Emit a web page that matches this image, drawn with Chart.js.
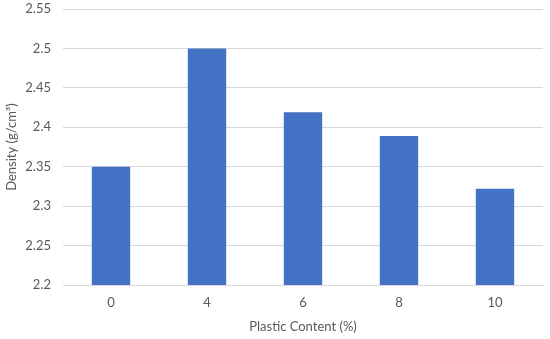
<!DOCTYPE html>
<html>
<head>
<meta charset="utf-8">
<script src="https://cdn.jsdelivr.net/npm/chart.js@4"></script>
<style>
  html, body { margin: 0; padding: 0; background: #fff; }
  #wrap { width: 550px; height: 339px; }
</style>
</head>
<body>
<div id="wrap"><canvas id="bar-chart" width="550" height="339"></canvas></div>
<script>
const categories = ['0', '4', '6', '8', '10'];
const density = [2.35, 2.5, 2.419, 2.389, 2.322];
const yTicks = [2.2, 2.25, 2.3, 2.35, 2.4, 2.45, 2.5, 2.55];

const textColor = '#595959';
const gridColor = '#d9d9d9';
const font = { family: 'Lato', size: 13 };

new Chart(document.getElementById('bar-chart'), {
    type: 'bar',
    data: {
        labels: categories,
        datasets: [{
            data: density,
            backgroundColor: '#4472c4',
            borderWidth: 0,
            barPercentage: 0.8,
            categoryPercentage: 0.5
        }]
    },
    options: {
        responsive: false,
        animation: false,
        layout: { padding: { top: 0, right: 7, left: 0, bottom: 0 } },
        plugins: {
            legend: { display: false },
            tooltip: { enabled: false }
        },
        scales: {
            x: {
                grid: { display: false, drawTicks: false },
                border: { color: gridColor, width: 1 },
                ticks: { color: textColor, font: font, padding: 10 },
                title: { display: true, text: 'Plastic Content (%)', color: textColor, font: font, padding: { top: 4 } },
                afterFit: s => { s.height = 54; }
            },
            y: {
                min: yTicks[0],
                max: yTicks[yTicks.length - 1],
                afterBuildTicks: s => { s.ticks = yTicks.map(v => ({ value: v })); },
                grid: { color: gridColor, drawTicks: false },
                border: { display: false },
                ticks: {
                    color: textColor, font: font, padding: 12,
                    callback: v => String(Number(v.toFixed(2)))
                },
                title: { display: true, text: 'Density (g/cm³)', color: textColor, font: font },
                afterFit: s => { s.width = 63; s.paddingTop = 9; s.paddingBottom = 0; }
            }
        }
    }
});
</script>
</body>
</html>
